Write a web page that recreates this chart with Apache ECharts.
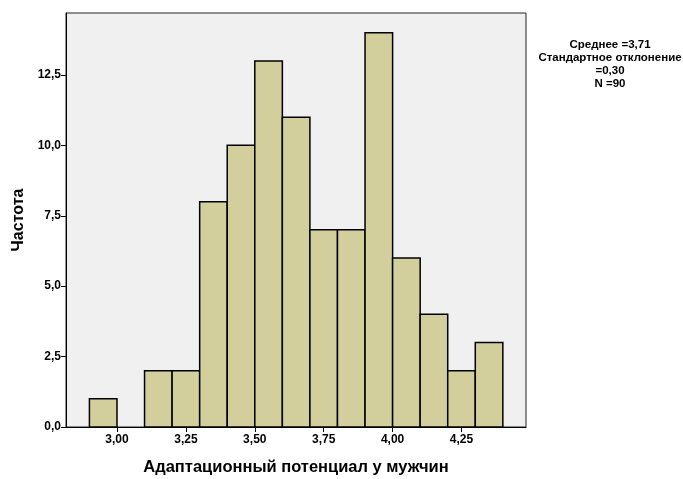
<!DOCTYPE html>
<html>
<head>
<meta charset="utf-8">
<script src="https://cdn.jsdelivr.net/npm/echarts@6/dist/echarts.min.js"></script>
<style>html,body{margin:0;padding:0;background:#fff;}#c{width:683px;height:479px;}</style>
</head>
<body>
<div id="c"></div>
<script>
const binStarts = [2.9, 3.0, 3.1, 3.2, 3.3, 3.4, 3.5, 3.6, 3.7, 3.8, 3.9, 4.0, 4.1, 4.2, 4.3];
const counts    = [1,   0,   2,   2,   8,   10,  13,  11,  7,   7,   14,  6,   4,   2,   3];
const binWidth = 0.1;
const xTicks = [3.00, 3.25, 3.50, 3.75, 4.00, 4.25];
const yTicks = [0, 2.5, 5, 7.5, 10, 12.5];
const statsLines = ['Среднее =3,71', 'Стандартное отклонение', '=0,30', 'N =90'];

const data = binStarts.map((s, i) => [s, s + binWidth, counts[i]]);
const fmt = (v, d) => v.toFixed(d).replace('.', ',');
const font = 'Liberation Sans, Arial, sans-serif';

const chart = echarts.init(document.getElementById('c'), null, {renderer: 'canvas'});
chart.setOption({
  animation: false,
  grid: {left: 66, right: 157, top: 13, bottom: 52, containLabel: false, outerBoundsMode: 'none',
         show: true, backgroundColor: '#f0f0f0', borderColor: '#222', borderWidth: 1},
  xAxis: {
    type: 'value', min: 2.815, max: 4.484,
    name: 'Адаптационный потенциал у мужчин', nameLocation: 'middle', nameGap: 32,
    nameTextStyle: {fontFamily: font, fontWeight: 'bold', fontSize: 16.5, color: '#000'},
    axisLine: {show: true, lineStyle: {color: '#000', width: 1}},
    axisTick: {show: true, length: 5, customValues: xTicks, lineStyle: {color: '#000'}},
    axisLabel: {customValues: xTicks, formatter: v => fmt(v, 2), fontFamily: font, fontWeight: 'bold', fontSize: 12, color: '#000', margin: 7},
    splitLine: {show: false}
  },
  yAxis: {
    type: 'value', min: 0, max: 14.7,
    name: 'Частота', nameLocation: 'middle', nameGap: 37, nameRotate: 90,
    nameTextStyle: {fontFamily: font, fontWeight: 'bold', fontSize: 16, color: '#000'},
    axisLine: {show: true, lineStyle: {color: '#000', width: 1}},
    axisTick: {show: true, length: 5, customValues: yTicks, lineStyle: {color: '#000'}},
    axisLabel: {customValues: yTicks, formatter: v => fmt(v, 1), fontFamily: font, fontWeight: 'bold', fontSize: 12, color: '#000', margin: 5},
    splitLine: {show: false}
  },
  series: [{
    type: 'custom',
    data: data,
    encode: {x: [0, 1], y: 2},
    renderItem: function (params, api) {
      const h = api.value(2);
      if (!h) return null;
      const p0 = api.coord([api.value(0), h]);
      const p1 = api.coord([api.value(1), 0]);
      return {
        type: 'rect',
        shape: {x: p0[0], y: p0[1], width: p1[0] - p0[0], height: p1[1] - p0[1]},
        style: {fill: '#d3cf9c', stroke: '#000', lineWidth: 1.5}
      };
    }
  }],
  graphic: [{
    type: 'text', x: 610, y: 38,
    style: {text: statsLines.join('\n'), textAlign: 'center', textVerticalAlign: 'top', fontFamily: font, fontWeight: 'bold', fontSize: 11.5, lineHeight: 13, fill: '#000'}
  }]
});
</script>
</body>
</html>
